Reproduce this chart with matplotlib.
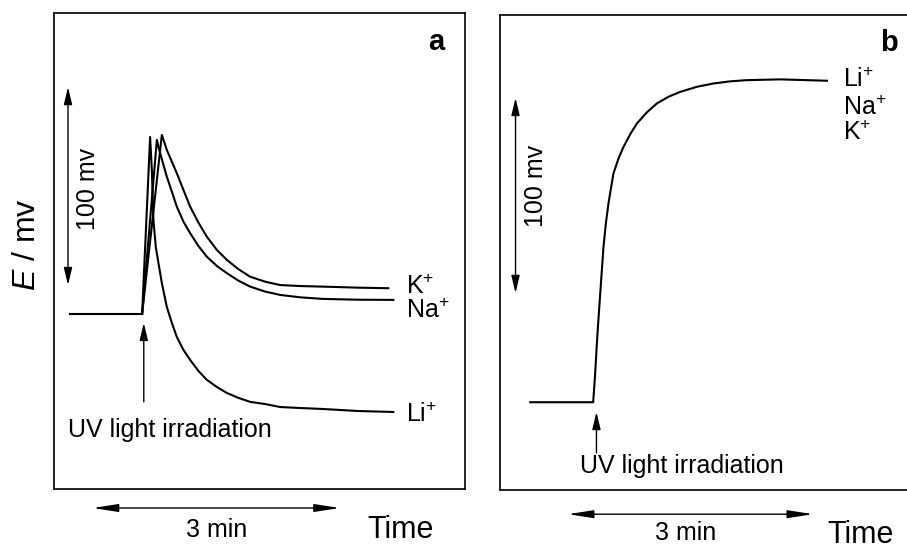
import matplotlib
matplotlib.use("Agg")
import matplotlib.pyplot as plt

plt.rcParams['font.family'] = ['Liberation Sans', 'DejaVu Sans']
plt.rcParams['mathtext.fontset'] = 'custom'
plt.rcParams['mathtext.rm'] = 'Liberation Sans'
plt.rcParams['mathtext.it'] = 'Liberation Sans:italic'
plt.rcParams['mathtext.default'] = 'regular'

# time in min (0 = UV irradiation), potential change in mV (0 = dark level)
base_a_t = [-0.87, 0.0]
base_a_E = [0.0, 0.0]

li_t = [0.0, 0.097, 0.118, 0.137, 0.166, 0.198, 0.239, 0.300, 0.361, 0.421, 0.502,
        0.583, 0.684, 0.786, 0.908, 1.029, 1.170, 1.312, 1.494, 1.677, 1.920,
        2.199, 2.613, 3.05]
li_E = [0.0, 89.4, 72.7, 47.5, 33.8, 25.8, 15.7, 3.5, -4.5, -11.6, -18.2,
        -23.2, -28.8, -33.3, -36.9, -39.9, -42.4, -44.4, -45.5, -47.0, -47.5,
        -48.0, -49.0, -49.5]

na_t = [0.0, 0.179, 0.198, 0.219, 0.259, 0.300, 0.361, 0.421, 0.502, 0.583, 0.684,
        0.786, 0.908, 1.029, 1.170, 1.312, 1.494, 1.677, 1.920, 2.199, 2.613, 3.05]
na_E = [0.0, 87.9, 84.5, 81.2, 75.3, 69.3, 61.8, 54.2, 46.6, 40.8, 34.3,
        28.9, 24.2, 20.6, 16.8, 13.8, 11.3, 9.6, 8.4, 7.6, 7.2, 7.1]

k_t = [0.0, 0.239, 0.267, 0.300, 0.361, 0.421, 0.502, 0.583, 0.684, 0.786, 0.908,
       1.029, 1.170, 1.312, 1.494, 1.677, 1.920, 2.199, 2.613, 2.989]
k_E = [0.0, 90.4, 87.0, 82.8, 76.9, 71.1, 62.6, 54.2, 46.1, 39.0, 32.3,
       27.3, 22.6, 18.8, 16.3, 14.6, 14.1, 13.8, 13.3, 13.0]

# panel b: Li+, Na+ and K+ give the same response
b_t = [-0.77, 0.0, 0.024, 0.045, 0.065, 0.086, 0.106, 0.126, 0.155, 0.187, 0.217,
       0.248, 0.310, 0.371, 0.453, 0.535, 0.657, 0.780, 0.922, 1.065, 1.269,
       1.472, 1.677, 1.881, 2.289, 2.860]
b_E = [0.0, 0.0, 14.7, 30.1, 43.0, 55.7, 67.7, 79.6, 91.6, 101.9, 109.6,
       117.3, 125.0, 130.9, 137.4, 142.9, 148.6, 153.2, 156.6, 159.1, 161.7,
       163.4, 164.5, 165.1, 165.5, 164.8]

W, H = 907, 549
fig = plt.figure(figsize=(W / 100, H / 100), dpi=100)

def box(x0, y0, x1, y1):
    # pixel box (top-left origin) -> figure fraction rect
    return [x0 / W, 1 - y1 / H, (x1 - x0) / W, (y1 - y0) / H]

ax_a = fig.add_axes(box(54, 13, 465, 489))
ax_b = fig.add_axes(box(500, 15, 912, 490))

ax_a.set_xlim(-1.07, 3.92)
ax_a.set_ylim(-88.4, 152)
ax_b.set_xlim(-1.14, 3.9)
ax_b.set_ylim(-45, 198.5)

for ax in (ax_a, ax_b):
    ax.set_xticks([])
    ax.set_yticks([])
    for s in ax.spines.values():
        s.set_linewidth(1.2)

lw = 1.5
ax_a.plot(base_a_t, base_a_E, color='black', lw=lw)
ax_a.plot(li_t, li_E, color='black', lw=lw, solid_joinstyle='round')
ax_a.plot(na_t, na_E, color='black', lw=lw, solid_joinstyle='round')
ax_a.plot(k_t, k_E, color='black', lw=lw, solid_joinstyle='round')
ax_b.plot(b_t, b_E, color='black', lw=lw, solid_joinstyle='round')

fs = 18
vert = dict(arrowstyle='<|-|>,head_length=0.75,head_width=0.18', color='black',
            lw=1.0, mutation_scale=14, shrinkA=0, shrinkB=0)
horiz = dict(arrowstyle='<|-|>,head_length=1.1,head_width=0.17', color='black',
             lw=1.0, mutation_scale=14, shrinkA=0, shrinkB=0)
one = dict(arrowstyle='-|>,head_length=0.75,head_width=0.18', color='black',
           lw=1.0, mutation_scale=14, shrinkA=0, shrinkB=0)

# panel a annotations
ax_a.annotate('', xy=(-0.9, 114.6), xytext=(-0.9, 14.6), arrowprops=vert)
ax_a.text(-0.66, 63, '100 mv', rotation=90, ha='center', va='center', fontsize=fs)
ax_a.annotate('', xy=(0.02, -4.5), xytext=(0.02, -44.4), arrowprops=one)
ax_a.text(-0.9, -58.6, 'UV light irradiation', ha='left', va='center', fontsize=fs)
ax_a.text(3.2, 13.6, 'K$^{+}$', ha='left', va='center', fontsize=fs)
ax_a.text(3.2, 1.5, 'Na$^{+}$', ha='left', va='center', fontsize=fs)
ax_a.text(3.2, -51, 'Li$^{+}$', ha='left', va='center', fontsize=fs)
ax_a.text(0.93, 0.939, 'a', transform=ax_a.transAxes, ha='center', va='center',
          fontsize=21, fontweight='bold')
ax_a.annotate('', xy=(-0.6, -98), xytext=(2.4, -98), arrowprops=horiz,
              annotation_clip=False)
ax_a.text(0.9, -109, '3 min', ha='center', va='center', fontsize=fs, clip_on=False)
ax_a.text(2.73, -109, 'Time', ha='left', va='center', fontsize=22, clip_on=False)

# panel b annotations
ax_b.annotate('', xy=(-0.95, 156), xytext=(-0.95, 56), arrowprops=vert)
ax_b.text(-0.70, 111, '100 mv', rotation=90, ha='center', va='center', fontsize=fs)
ax_b.annotate('', xy=(0.04, -5), xytext=(0.04, -26), arrowprops=one)
ax_b.text(-0.16, -32.8, 'UV light irradiation', ha='left', va='center', fontsize=fs)
ax_b.text(3.06, 165, 'Li$^{+}$', ha='left', va='center', fontsize=fs)
ax_b.text(3.06, 151, 'Na$^{+}$', ha='left', va='center', fontsize=fs)
ax_b.text(3.06, 138, 'K$^{+}$', ha='left', va='center', fontsize=fs)
ax_b.text(0.944, 0.941, 'b', transform=ax_b.transAxes, ha='center', va='center',
          fontsize=21, fontweight='bold')
ax_b.annotate('', xy=(-0.31, -57.4), xytext=(2.69, -57.4), arrowprops=horiz,
              annotation_clip=False)
ax_b.text(1.13, -67, '3 min', ha='center', va='center', fontsize=fs, clip_on=False)
ax_b.text(2.86, -68.2, 'Time', ha='left', va='center', fontsize=22, clip_on=False)

fig.text(27 / W, 1 - 245 / H, '$\\mathit{E}$ / mv', rotation=90, ha='center',
         va='center', fontsize=23)

fig.savefig('out.png', dpi=100)
